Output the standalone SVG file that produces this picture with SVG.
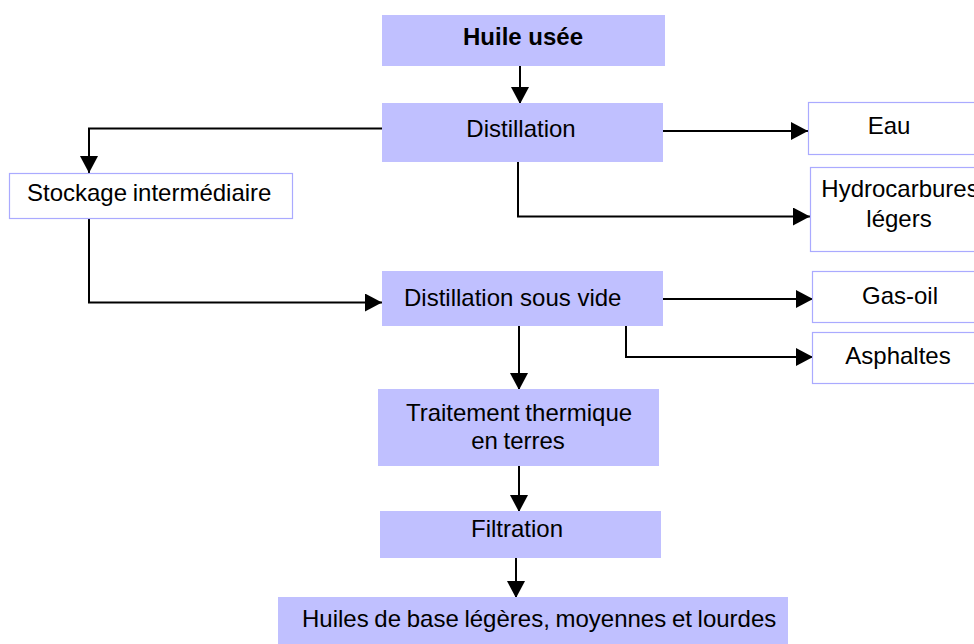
<svg xmlns="http://www.w3.org/2000/svg" width="974" height="644" viewBox="0 0 974 644">
  <style>
    .proc { fill: #C0C0FF; stroke: none; }
    .out { fill: #FFFFFF; stroke: #AAAAFF; stroke-width: 1.2; }
    text { font-family: "Liberation Sans", Arial, sans-serif; font-size: 24px; fill: #000000; }
    .bold { font-weight: bold; }
    .mid { text-anchor: middle; }
    .tight { word-spacing: -1px; }
    .wire { fill: none; stroke: #000000; stroke-width: 2; marker-end: url(#arrow); }
  </style>
  <defs>
    <marker id="arrow" markerUnits="userSpaceOnUse" markerWidth="18" markerHeight="18" refX="17" refY="9" orient="auto">
      <path d="M0,0 L17,9 L0,18 Z" fill="#000000"/>
    </marker>
  </defs>
  <rect width="974" height="644" fill="#FFFFFF"/>

  <g id="connectors">
    <path class="wire" d="M520,63 V104"/>
    <path class="wire" d="M382,128.5 H89 V173"/>
    <path class="wire" d="M663,131 H808"/>
    <path class="wire" d="M518,162 V216.5 H810"/>
    <path class="wire" d="M89,219 V302.5 H382"/>
    <path class="wire" d="M658,299 H813"/>
    <path class="wire" d="M626,322 V357 H813"/>
    <path class="wire" d="M519,326 V390"/>
    <path class="wire" d="M519,466 V512"/>
    <path class="wire" d="M516,556 V598"/>
  </g>

  <g id="huile-usee">
    <rect class="proc" x="382" y="15" width="283" height="51"/>
    <text class="bold mid" x="523" y="45">Huile usée</text>
  </g>

  <g id="distillation">
    <rect class="proc" x="382" y="103" width="281" height="59"/>
    <text class="mid" x="521" y="137">Distillation</text>
  </g>

  <g id="stockage">
    <rect class="out" x="9.5" y="173.5" width="283" height="45"/>
    <text class="tight" x="27" y="201">Stockage intermédiaire</text>
  </g>

  <g id="eau">
    <rect class="out" x="808.5" y="102.5" width="180" height="52"/>
    <text class="mid" x="889" y="134">Eau</text>
  </g>

  <g id="hydrocarbures">
    <rect class="out" x="810.5" y="167.5" width="180" height="84"/>
    <text class="mid" x="900" y="197">Hydrocarbures</text>
    <text class="mid" x="899" y="227">légers</text>
  </g>

  <g id="distillation-sous-vide">
    <rect class="proc" x="382" y="271" width="281" height="55"/>
    <text x="404" y="306">Distillation sous vide</text>
  </g>

  <g id="gas-oil">
    <rect class="out" x="812.5" y="271.5" width="180" height="51"/>
    <text class="mid" x="900" y="304">Gas-oil</text>
  </g>

  <g id="asphaltes">
    <rect class="out" x="812.5" y="332.5" width="180" height="51"/>
    <text class="mid" x="898" y="364">Asphaltes</text>
  </g>

  <g id="traitement">
    <rect class="proc" x="378" y="389" width="281" height="77"/>
    <text class="mid tight" x="519" y="421">Traitement thermique</text>
    <text class="mid tight" x="518" y="449">en terres</text>
  </g>

  <g id="filtration">
    <rect class="proc" x="380" y="511" width="281" height="47"/>
    <text class="mid" x="517" y="537">Filtration</text>
  </g>

  <g id="huiles-de-base">
    <rect class="proc" x="278" y="597" width="510" height="50"/>
    <text class="tight" x="302" y="627">Huiles de base légères, moyennes et lourdes</text>
  </g>
</svg>
